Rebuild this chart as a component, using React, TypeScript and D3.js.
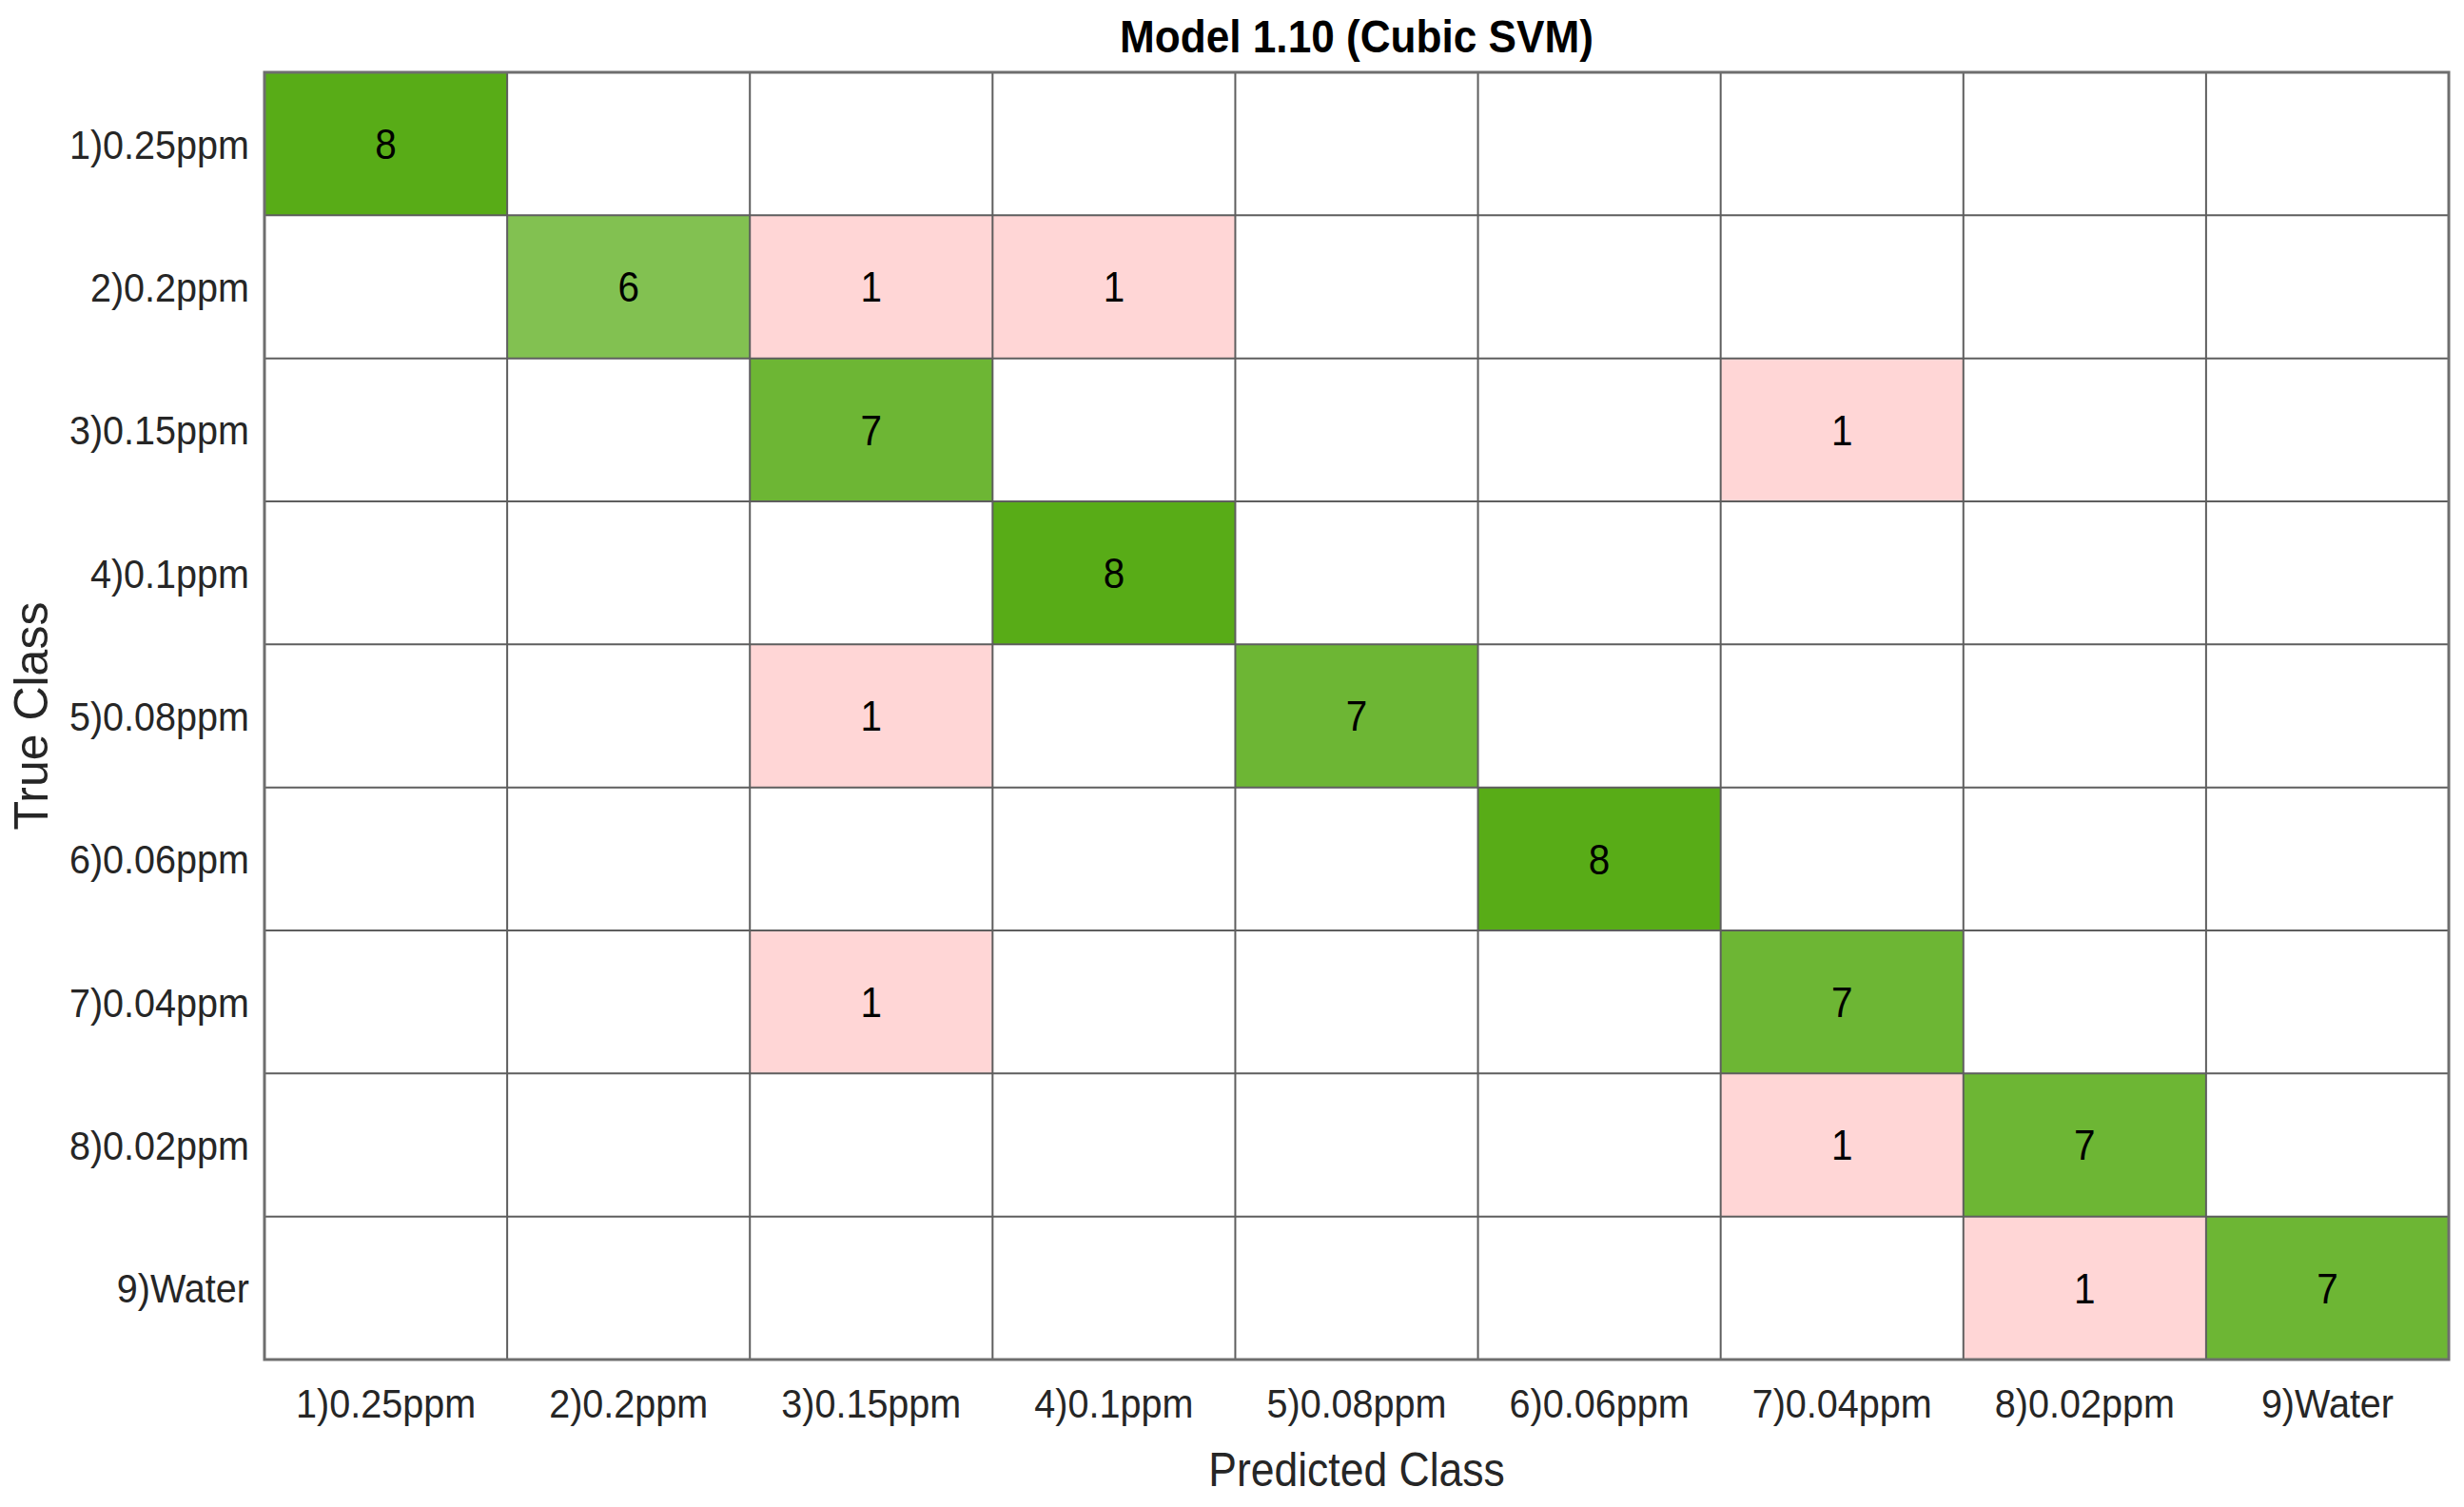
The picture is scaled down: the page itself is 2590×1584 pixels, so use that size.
// App.tsx - confusion matrix, Model 1.10 (Cubic SVM)
import React from 'react';
import * as d3 from 'd3';

const classes = ['1)0.25ppm', '2)0.2ppm', '3)0.15ppm', '4)0.1ppm', '5)0.08ppm', '6)0.06ppm', '7)0.04ppm', '8)0.02ppm', '9)Water'];

// rows = true class, cols = predicted class
const row1 = [8, 0, 0, 0, 0, 0, 0, 0, 0];
const row2 = [0, 6, 1, 1, 0, 0, 0, 0, 0];
const row3 = [0, 0, 7, 0, 0, 0, 1, 0, 0];
const row4 = [0, 0, 0, 8, 0, 0, 0, 0, 0];
const row5 = [0, 0, 1, 0, 7, 0, 0, 0, 0];
const row6 = [0, 0, 0, 0, 0, 8, 0, 0, 0];
const row7 = [0, 0, 1, 0, 0, 0, 7, 0, 0];
const row8 = [0, 0, 0, 0, 0, 0, 1, 7, 0];
const row9 = [0, 0, 0, 0, 0, 0, 0, 1, 7];
const matrix = [row1, row2, row3, row4, row5, row6, row7, row8, row9];

const title = 'Model 1.10 (Cubic SVM)';
const xTitle = 'Predicted Class';
const yTitle = 'True Class';

const W = 2590;
const H = 1584;
const margin = { top: 76, right: 16, bottom: 155, left: 278 };
const FONT = '"Liberation Sans", Arial, Helvetica, sans-serif';
const NARROW = 0.92; // the original text is slightly condensed

const App: React.FC = () => {
  const x = d3.scaleBand<string>().domain(classes).range([margin.left, W - margin.right]);
  const y = d3.scaleBand<string>().domain(classes).range([margin.top, H - margin.bottom]);

  const maxDiag = d3.max(matrix, (r, i) => r[i]) ?? 1;
  const maxOff = d3.max(matrix.flatMap((r, i) => r.filter((_, j) => j !== i))) ?? 1;
  const diagColor = d3.scaleLinear<string>().domain([0, maxDiag]).range(['#ffffff', '#58ac17']).interpolate(d3.interpolateRgb);
  const offColor = d3.scaleLinear<string>().domain([0, maxOff]).range(['#ffffff', '#ffd6d6']).interpolate(d3.interpolateRgb);

  const cells = matrix.flatMap((r, i) => r.map((v, j) => ({ i, j, v })));
  const bw = x.bandwidth();
  const bh = y.bandwidth();
  const x0 = margin.left;
  const x1 = W - margin.right;
  const y0 = margin.top;
  const y1 = H - margin.bottom;

  return (
    <div style={{ position: 'absolute', left: 0, top: 0 }}>
      <svg width={W} height={H} style={{ display: 'block', background: '#fff' }} fontFamily={FONT}>
        <g className="cells">
          {cells.map((c) => (
            <rect
              key={`${c.i}-${c.j}`}
              x={x(classes[c.j])}
              y={y(classes[c.i])}
              width={bw}
              height={bh}
              fill={c.v === 0 ? '#ffffff' : c.i === c.j ? diagColor(c.v) : offColor(c.v)}
            />
          ))}
        </g>
        <g className="grid" stroke="#5e5e5e" strokeWidth={2}>
          {classes.slice(1).map((d) => (
            <line key={`v${d}`} x1={x(d)} x2={x(d)} y1={y0} y2={y1} />
          ))}
          {classes.slice(1).map((d) => (
            <line key={`h${d}`} x1={x0} x2={x1} y1={y(d)} y2={y(d)} />
          ))}
          <rect x={x0} y={y0} width={x1 - x0} height={y1 - y0} fill="none" stroke="#6e6e6e" strokeWidth={3} />
        </g>
        <g className="values" fontSize={44} fill="#000" textAnchor="middle">
          {cells.filter((c) => c.v > 0).map((c) => (
            <g key={`t${c.i}-${c.j}`} transform={`translate(${(x(classes[c.j]) ?? 0) + bw / 2},${(y(classes[c.i]) ?? 0) + bh / 2}) scale(${NARROW},1)`}>
              <text dy="0.36em">{c.v}</text>
            </g>
          ))}
        </g>
        <g className="y-ticks" fontSize={43} fill="#262626" textAnchor="end">
          {classes.map((d) => (
            <g key={`yt${d}`} transform={`translate(${x0 - 16},${(y(d) ?? 0) + bh / 2}) scale(${NARROW},1)`}>
              <text dy="0.36em">{d}</text>
            </g>
          ))}
        </g>
        <g className="x-ticks" fontSize={43} fill="#262626" textAnchor="middle">
          {classes.map((d) => (
            <g key={`xt${d}`} transform={`translate(${(x(d) ?? 0) + bw / 2},${y1 + 61}) scale(${NARROW},1)`}>
              <text>{d}</text>
            </g>
          ))}
        </g>
        <g transform={`translate(${(x0 + x1) / 2},${y1 + 133}) scale(0.89,1)`}>
          <text fontSize={50} fill="#262626" textAnchor="middle">{xTitle}</text>
        </g>
        <text
          transform={`translate(32,${(y0 + y1) / 2}) rotate(-90)`}
          fontSize={50}
          fill="#262626"
          textAnchor="middle"
          dy="0.36em"
        >
          {yTitle}
        </text>
        <g transform={`translate(${(x0 + x1) / 2},55) scale(0.92,1)`}>
          <text fontSize={48} fontWeight="bold" fill="#000" textAnchor="middle">{title}</text>
        </g>
      </svg>
    </div>
  );
};

export default App;
